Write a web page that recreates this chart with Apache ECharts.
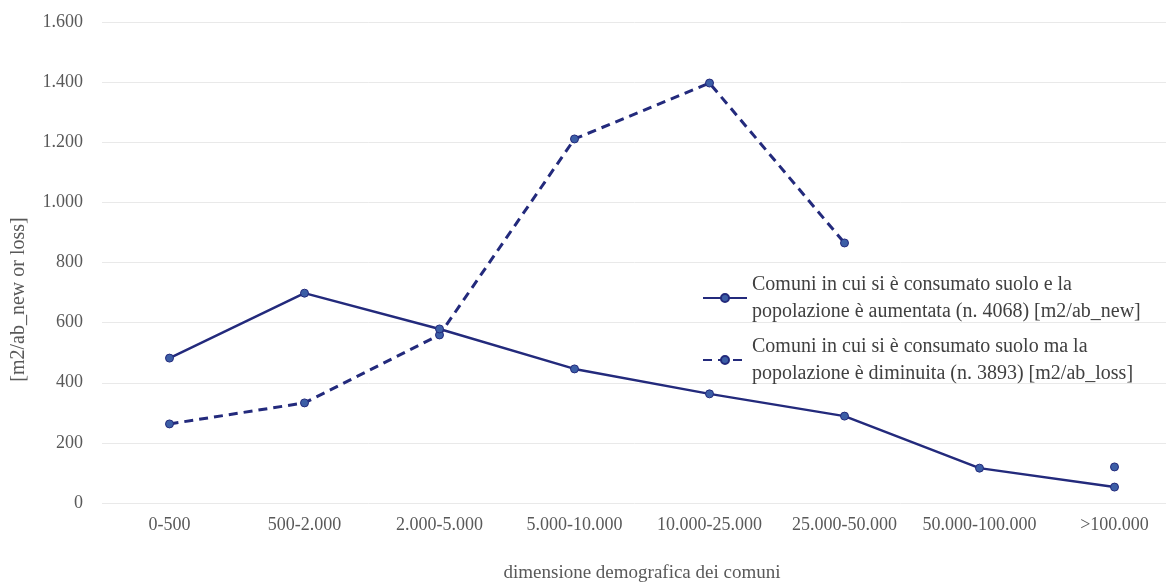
<!DOCTYPE html>
<html>
<head>
<meta charset="utf-8">
<script src="https://cdn.jsdelivr.net/npm/echarts@6/dist/echarts.min.js"></script>
<style>
  html, body { margin: 0; padding: 0; background: #fff; }
  #chart { width: 1166px; height: 583px; }
</style>
</head>
<body>
<div id="chart"></div>
<script>
const categories = ['0-500', '500-2.000', '2.000-5.000', '5.000-10.000', '10.000-25.000', '25.000-50.000', '50.000-100.000', '>100.000'];
const popUp = [482, 698, 579, 446, 363, 289, 116, 53];
const popDown = [263, 333, 559, 1211, 1397, 865, null, 120];
const yTicks = [0, 200, 400, 600, 800, 1000, 1200, 1400, 1600];

const nameUp = 'Comuni in cui si è consumato suolo e la\npopolazione è aumentata (n. 4068) [m2/ab_new]';
const nameDown = 'Comuni in cui si è consumato suolo ma la\npopolazione è diminuita (n. 3893) [m2/ab_loss]';

const fontFam = '"Liberation Serif", "DejaVu Serif", serif';
const lineColor = '#232a7c';
const dotColor = '#3c5ea6';

function fmt(v) {
    return String(v).replace(/\B(?=(\d{3})+(?!\d))/g, '.');
}

const chart = echarts.init(document.getElementById('chart'));

chart.setOption({
    animation: false,
    grid: {
        left: 102,
        top: 22,
        width: 1080,
        height: 481,
        outerBoundsMode: 'none',
        containLabel: false
    },
    legend: {
        orient: 'vertical',
        left: 697,
        top: 266,
        itemWidth: 44,
        itemHeight: 10,
        itemGap: 8,
        textStyle: {
            fontFamily: fontFam,
            fontSize: 20,
            color: '#404040',
            lineHeight: 27
        },
        data: [nameUp, nameDown]
    },
    xAxis: {
        type: 'category',
        data: categories,
        boundaryGap: true,
        name: 'dimensione demografica dei comuni',
        nameLocation: 'middle',
        nameGap: 61,
        nameTextStyle: { fontFamily: fontFam, fontSize: 19, color: '#595959' },
        axisLine: { show: false },
        axisTick: { show: false },
        axisLabel: {
            interval: 0,
            fontFamily: fontFam,
            fontSize: 18,
            color: '#595959',
            margin: 13
        }
    },
    yAxis: {
        type: 'value',
        min: yTicks[0],
        max: yTicks[yTicks.length - 1],
        interval: 200,
        name: '[m2/ab_new or loss]',
        nameLocation: 'middle',
        nameGap: 73,
        nameRotate: 90,
        nameTextStyle: {
            fontFamily: fontFam,
            fontSize: 20,
            color: '#595959',
            padding: [0, 74, 0, 0]
        },
        axisLine: { show: false },
        axisTick: { show: false },
        axisLabel: {
            fontFamily: fontFam,
            fontSize: 18,
            color: '#595959',
            margin: 19,
            formatter: fmt
        },
        splitLine: { lineStyle: { color: '#e9e9e9', width: 1 } }
    },
    series: [
        {
            name: nameDown,
            type: 'line',
            data: popDown,
            symbol: 'circle',
            symbolSize: 8,
            connectNulls: false,
            lineStyle: { color: lineColor, width: 3, type: [9, 6] },
            itemStyle: { color: dotColor, borderColor: lineColor, borderWidth: 1 }
        },
        {
            name: nameUp,
            type: 'line',
            data: popUp,
            symbol: 'circle',
            symbolSize: 8,
            lineStyle: { color: lineColor, width: 2.5 },
            itemStyle: { color: dotColor, borderColor: lineColor, borderWidth: 1 }
        }
    ]
});
</script>
</body>
</html>
